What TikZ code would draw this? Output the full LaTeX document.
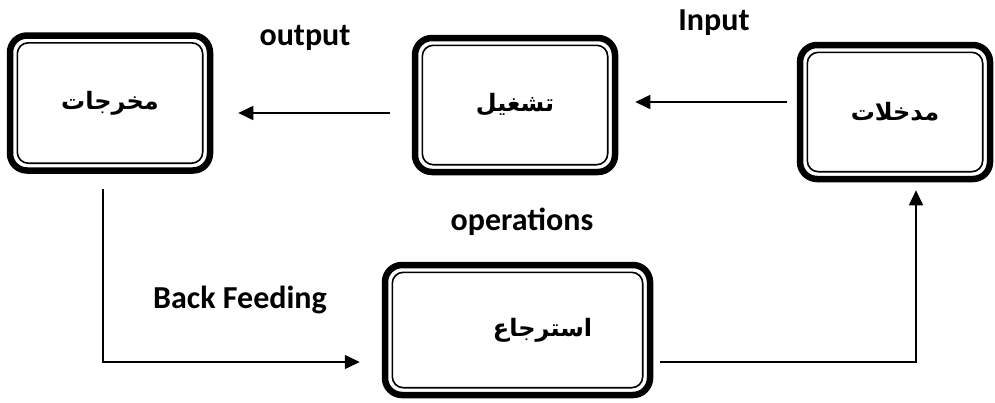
\documentclass[tikz,border=0pt]{standalone}
\usepackage{fontspec}
\setmainfont{Carlito}
\newfontfamily\arabicfont[Script=Arabic]{DejaVu Sans}
\TeXXeTstate=1
\usetikzlibrary{arrows.meta}
\tikzset{
stage/.style={
	draw, line width=6.5pt, rounded corners=17pt,
	font=\arabicfont\bfseries\fontsize{24}{28}\selectfont,
	path picture={\draw[line width=1.6pt, rounded corners=11pt]
		([shift={(7.3pt,-7.3pt)}]path picture bounding box.north west) rectangle
		([shift={(-7.3pt,7.3pt)}]path picture bounding box.south east);}},
flow/.style={-{Triangle[length=15pt,width=14pt]}, line width=1.5pt},
tag/.style={font=\bfseries\fontsize{32}{38}\selectfont}
}
\newcommand{\artext}[1]{\beginR #1\endR}

\begin{document}
\begin{tikzpicture}[x=1pt, y=-1pt]
	\useasboundingbox (0,0) rectangle (995,402);
	\node[stage, minimum width=200pt, minimum height=135pt] (out) at (110,103) {\artext{مخرجات}};
	\node[stage, minimum width=200pt, minimum height=134pt] (proc) at (515,105) {\artext{تشغيل}};
	\node[stage, minimum width=190pt, minimum height=134pt] (inp) at (895,112) {\artext{مدخلات}};
	\node[stage, minimum width=265pt, minimum height=130pt] (back) at (517.5,330) {\hspace*{50pt}\artext{استرجاع}};
	% labels
	\node[tag] (outlbl) at (305,38) {output};
	\node[tag] (inplbl) at (714,23) {Input};
	\node[tag] (oplbl) at (522,222) {operations};
	\node[tag] (backlbl) at (240,300) {Back Feeding};
	% connectors
	\draw[flow] ([shift={(-10pt,10pt)}]inp.west) -- ([shift={(17pt,3pt)}]proc.east);
	\draw[flow] ([shift={(-22pt,-8pt)}]proc.west) -- ([shift={(25pt,-10pt)}]out.east);
	\draw[flow] ([shift={(-7pt,-15.5pt)}]out.south) |- ([shift={(-22pt,-32pt)}]back.west);
	\draw[flow] ([shift={(7pt,-32pt)}]back.east) -| ([shift={(21pt,-8pt)}]inp.south);
\end{tikzpicture}
\end{document}
